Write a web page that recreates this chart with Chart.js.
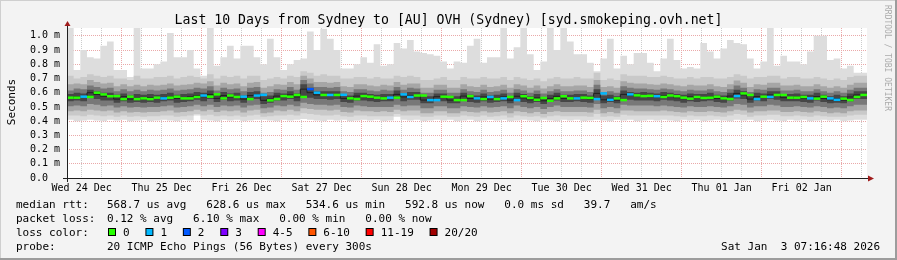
<!DOCTYPE html>
<html>
<head>
<meta charset="utf-8">
<title>SmokePing syd.smokeping.ovh.net</title>
<script src="https://cdn.jsdelivr.net/npm/chart.js@4.4.1/dist/chart.umd.min.js"></script>
<style>
  html, body { margin: 0; padding: 0; background: #f3f3f3; }
  #wrap { width: 897px; height: 260px; }
</style>
</head>
<body>
<div id="wrap"><canvas id="smoke" width="897" height="260"></canvas></div>
<script>
// 10 days, one value every 2 hours (hours counted from midnight Wed 24 Dec)
const X_MIN = 7.6;
const X_MAX = 247.6;
const STEP_H = 2;
const Y_MAX = 1.055;

const dayLabels = ['Wed 24 Dec', 'Thu 25 Dec', 'Fri 26 Dec', 'Sat 27 Dec', 'Sun 28 Dec',
                   'Mon 29 Dec', 'Tue 30 Dec', 'Wed 31 Dec', 'Thu 01 Jan', 'Fri 02 Jan'];
const gridHours = [12, 18, 24, 30, 36, 42, 48, 54, 60, 66, 72, 78, 84, 90, 96, 102, 108, 114, 120,
                   126, 132, 138, 144, 150, 156, 162, 168, 174, 180, 186, 192, 198, 204, 210, 216,
                   222, 228, 234, 240, 246];
const yTicks = [0, 0.1, 0.2, 0.3, 0.4, 0.5, 0.6, 0.7, 0.8, 0.9, 1.0];
const yTickLabels = ['0.0  ', '0.1 m', '0.2 m', '0.3 m', '0.4 m', '0.5 m', '0.6 m', '0.7 m', '0.8 m', '0.9 m', '1.0 m'];

// median rtt (ms) and lost pings out of 20
const medianRtt = [
  .565,.565,.572,.57,.60,.588,.575,.576,.555,.572,.555,.56,.555,.565,.56,.565,.572,.56,.56,.57,.58,.572,.588,.56,.58,.57,.572,.555,.58,.585,
  .546,.555,.576,.572,.584,.57,.625,.60,.584,.584,.584,.585,.56,.555,.576,.572,.565,.56,.565,.565,.588,.57,.58,.58,.548,.548,.572,.57,.548,.548,
  .576,.56,.555,.57,.555,.56,.57,.548,.575,.563,.55,.563,.543,.56,.575,.56,.56,.565,.563,.555,.595,.55,.56,.548,.588,.581,.576,.578,.575,.57,
  .58,.575,.565,.558,.57,.563,.565,.572,.56,.555,.576,.595,.584,.555,.572,.57,.584,.584,.565,.565,.57,.56,.558,.572,.56,.55,.558,.548,.57,.584
];
const lostPings = [
  0,0,1,0,0,0,0,0,0,0,0,0,0,0,1,0,0,0,0,0,1,0,0,0,0,0,1,0,1,1,
  0,0,0,0,0,0,2,1,0,1,0,1,0,0,0,0,0,0,1,0,1,1,0,0,1,1,0,0,0,0,
  0,1,0,1,0,1,0,1,0,0,0,0,0,0,0,0,1,0,0,1,1,1,0,0,1,0,0,0,1,0,
  0,0,0,0,0,0,0,0,0,0,1,0,0,1,0,1,0,0,0,0,0,1,0,0,1,1,0,0,0,0
];

// smoke: outer (min / max) to inner percentiles
const maxRtt = [
  .81,1.06,.76,.90,.85,.84,.93,.96,.76,.76,.71,1.06,.77,.77,.80,.82,1.02,.85,.85,.90,.77,.72,1.06,.79,.85,.93,.84,.93,.93,.85,
  .80,.98,.85,.76,.80,.83,.84,1.03,.90,1.05,.98,.90,.77,.77,.80,.85,.81,.94,.79,.80,.95,.91,.97,.89,.88,.87,.86,.82,.77,.82,
  .81,.93,.98,.81,.85,.85,1.06,.84,.92,1.06,.87,.76,.82,1.06,.90,1.06,.96,.87,.87,.81,.75,.84,.98,.77,.86,.80,.88,.88,.81,.75,
  .84,.98,.83,.77,.78,.77,.95,.89,.84,.91,.97,.95,.94,.84,.77,.82,1.06,.79,.86,.82,.82,.80,.89,1.00,1.00,.83,.84,.77,.79,.74
];
const minRtt = [
  .405,.41,.40,.405,.41,.405,.40,.41,.405,.41,.40,.405,.41,.40,.405,.41,.405,.40,.41,.405,.44,.41,.405,.40,.41,.405,.41,.40,.405,.41,
  .41,.405,.40,.41,.405,.41,.415,.41,.405,.40,.41,.405,.41,.40,.405,.41,.405,.41,.40,.405,.43,.41,.405,.41,.40,.405,.41,.405,.41,.40,
  .405,.41,.40,.405,.41,.405,.41,.40,.405,.41,.405,.40,.41,.405,.40,.41,.405,.41,.40,.405,.41,.405,.40,.41,.405,.41,.40,.405,.41,.405,
  .41,.405,.40,.41,.405,.41,.40,.405,.41,.405,.40,.41,.405,.41,.40,.405,.41,.405,.40,.41,.405,.41,.40,.405,.41,.405,.41,.40,.405,.41
];
const p2Hi = [
  .71,.72,.70,.71,.73,.72,.71,.72,.70,.70,.69,.72,.70,.70,.71,.71,.72,.70,.71,.72,.71,.70,.73,.70,.72,.71,.72,.70,.72,.72,
  .69,.70,.71,.70,.72,.71,.75,.74,.72,.73,.72,.72,.70,.70,.71,.71,.70,.71,.70,.70,.72,.71,.72,.71,.69,.69,.70,.71,.69,.69,
  .71,.70,.70,.71,.70,.70,.71,.69,.71,.70,.69,.70,.68,.70,.71,.70,.70,.71,.70,.70,.74,.69,.70,.69,.73,.72,.72,.72,.71,.71,
  .72,.71,.70,.70,.71,.70,.71,.71,.70,.70,.71,.73,.72,.70,.71,.71,.72,.72,.70,.71,.71,.70,.70,.71,.70,.69,.70,.69,.71,.72
];
const p2Lo = [
  .435,.44,.44,.435,.445,.44,.435,.44,.43,.44,.43,.435,.43,.435,.435,.44,.44,.43,.435,.44,.45,.44,.445,.435,.44,.435,.44,.43,.44,.445,
  .43,.435,.44,.44,.445,.44,.455,.45,.445,.44,.44,.445,.435,.43,.44,.44,.435,.435,.435,.435,.45,.44,.44,.44,.43,.43,.44,.44,.43,.43,
  .44,.435,.43,.44,.43,.435,.44,.425,.44,.435,.43,.435,.425,.435,.44,.435,.435,.435,.435,.43,.45,.43,.435,.43,.445,.44,.44,.44,.44,.44,
  .44,.44,.435,.43,.44,.435,.435,.44,.435,.43,.44,.45,.445,.43,.44,.44,.445,.445,.435,.435,.44,.435,.43,.44,.435,.43,.43,.43,.44,.445
];
const p3Hi = [
  .655,.66,.665,.66,.69,.675,.665,.67,.645,.66,.645,.655,.645,.655,.65,.655,.665,.65,.655,.66,.67,.665,.68,.65,.67,.66,.665,.645,.67,.675,
  .635,.645,.66,.655,.675,.66,.72,.70,.675,.675,.67,.675,.645,.64,.66,.66,.65,.645,.655,.65,.675,.655,.665,.665,.635,.635,.655,.655,.635,.635,
  .66,.645,.64,.655,.64,.645,.655,.635,.66,.65,.635,.65,.63,.645,.66,.645,.645,.65,.65,.64,.69,.64,.645,.635,.68,.67,.665,.665,.66,.655,
  .665,.66,.65,.645,.655,.65,.65,.66,.645,.64,.66,.685,.67,.64,.66,.655,.67,.67,.65,.65,.655,.645,.645,.66,.645,.635,.645,.635,.655,.67
];
const p3Lo = [
  .465,.47,.475,.47,.48,.475,.47,.475,.46,.47,.46,.465,.46,.465,.465,.47,.475,.46,.465,.47,.48,.47,.48,.465,.475,.47,.475,.46,.475,.48,
  .455,.46,.475,.47,.48,.47,.49,.485,.48,.48,.475,.48,.465,.46,.475,.47,.47,.465,.47,.465,.48,.47,.475,.475,.455,.455,.47,.47,.455,.455,
  .47,.465,.46,.47,.46,.465,.47,.455,.47,.465,.455,.465,.45,.465,.47,.465,.465,.465,.465,.46,.48,.455,.465,.455,.475,.475,.47,.47,.47,.47,
  .475,.47,.465,.46,.47,.465,.465,.47,.465,.46,.47,.48,.475,.46,.47,.47,.475,.475,.465,.465,.47,.465,.46,.47,.465,.455,.46,.455,.47,.475
];
const p4Hi = [
  .62,.615,.63,.625,.65,.64,.63,.635,.61,.625,.61,.62,.61,.62,.615,.62,.63,.615,.62,.625,.635,.63,.645,.615,.635,.625,.63,.61,.635,.64,
  .60,.605,.625,.62,.64,.62,.69,.665,.64,.64,.635,.64,.61,.605,.625,.625,.615,.61,.62,.615,.64,.62,.635,.63,.60,.60,.62,.62,.60,.60,
  .625,.61,.605,.62,.605,.61,.62,.60,.625,.615,.60,.615,.595,.61,.625,.61,.61,.615,.615,.605,.655,.605,.61,.60,.645,.635,.63,.63,.625,.62,
  .63,.625,.615,.61,.62,.615,.615,.625,.61,.605,.625,.65,.635,.605,.625,.62,.635,.635,.615,.615,.62,.61,.61,.625,.61,.60,.61,.60,.62,.635
];
const p4Lo = [
  .50,.505,.51,.505,.52,.515,.505,.51,.495,.505,.495,.50,.495,.50,.50,.505,.51,.495,.50,.505,.515,.505,.515,.50,.51,.505,.51,.495,.51,.515,
  .49,.495,.51,.505,.515,.505,.53,.52,.515,.515,.51,.515,.50,.495,.51,.505,.50,.50,.50,.50,.515,.505,.51,.51,.49,.49,.505,.505,.49,.49,
  .505,.50,.495,.505,.495,.50,.505,.49,.51,.50,.49,.50,.485,.50,.51,.50,.50,.50,.50,.495,.52,.49,.50,.49,.515,.51,.51,.51,.51,.505,
  .51,.505,.50,.495,.505,.50,.50,.505,.50,.495,.505,.52,.515,.495,.505,.505,.515,.51,.50,.50,.505,.50,.495,.505,.50,.49,.495,.49,.505,.515
];
const p5Hi = [
  .59,.59,.60,.595,.62,.61,.60,.60,.585,.595,.58,.59,.585,.59,.585,.59,.60,.585,.59,.595,.605,.60,.615,.585,.605,.595,.60,.58,.605,.61,
  .575,.58,.60,.595,.61,.595,.66,.635,.61,.61,.61,.61,.585,.58,.60,.60,.59,.585,.59,.59,.615,.595,.605,.605,.575,.575,.595,.595,.575,.575,
  .60,.585,.58,.595,.58,.585,.595,.575,.60,.59,.575,.59,.57,.585,.60,.585,.585,.59,.59,.58,.625,.58,.585,.575,.615,.605,.60,.605,.60,.595,
  .605,.60,.59,.585,.595,.59,.59,.60,.585,.58,.60,.62,.61,.58,.60,.595,.61,.61,.59,.59,.595,.585,.585,.60,.585,.575,.585,.575,.595,.61
];
const p5Lo = [
  .535,.54,.545,.54,.565,.555,.545,.545,.53,.54,.53,.535,.53,.535,.53,.54,.545,.53,.535,.54,.55,.54,.555,.535,.55,.54,.545,.53,.55,.555,
  .52,.53,.545,.545,.555,.54,.575,.565,.555,.555,.55,.555,.535,.53,.545,.545,.54,.535,.54,.54,.555,.54,.55,.55,.525,.525,.545,.54,.525,.525,
  .545,.535,.53,.54,.53,.535,.54,.525,.545,.535,.525,.535,.52,.535,.545,.535,.535,.54,.535,.53,.56,.525,.535,.525,.555,.55,.545,.545,.545,.54,
  .55,.545,.54,.53,.54,.535,.54,.545,.535,.53,.545,.56,.555,.53,.545,.54,.555,.55,.54,.54,.54,.535,.53,.545,.535,.525,.53,.525,.54,.555
];

const lossLabels = ['0', '1', '2', '3', '4-5', '6-10', '11-19', '20/20'];
const lossColors = ['#26ff00', '#00b8ff', '#0059ff', '#7e00ff', '#ff00ff', '#ff5500', '#ff0000', '#a10000'];
const lossIndex = n => n <= 3 ? n : n <= 5 ? 4 : n <= 10 ? 5 : n < 20 ? 6 : 7;

const legendRows = [
  ['median rtt:', '568.7 us avg   628.6 us max   534.6 us min   592.8 us now   0.0 ms sd   39.7   am/s'],
  ['packet loss:', '0.12 % avg   6.10 % max   0.00 % min   0.00 % now'],
  ['loss color:', ''],
  ['probe:', '20 ICMP Echo Pings (56 Bytes) every 300s']
];
const titleText = 'Last 10 Days from Sydney to [AU] OVH (Sydney) [syd.smokeping.ovh.net]';
const stampText = 'Sat Jan  3 07:16:48 2026';

const MONO = '"DejaVu Sans Mono", "Liberation Mono", monospace';

function stepSeries(values) {
  const pts = values.map((v, i) => ({ x: X_MIN + STEP_H * i, y: v }));
  pts.push({ x: X_MAX, y: values[values.length - 1] });
  return pts;
}

const bands = [
  { hi: p5Hi, lo: p5Lo, color: '#464646' },
  { hi: p4Hi, lo: p4Lo, color: '#787878' },
  { hi: p3Hi, lo: p3Lo, color: '#a6a6a6' },
  { hi: p2Hi, lo: p2Lo, color: '#c9c9c9' },
  { hi: maxRtt, lo: minRtt, color: '#dddddd' }
];

const datasets = [
  {
    // loss coloured median, one short bar per step
    data: medianRtt.map((v, i) => ({ x: X_MIN + STEP_H * (i + 0.5), y: v })),
    showLine: false,
    pointStyle: 'line',
    pointRadius: ctx => ctx.chart.chartArea ? ctx.chart.chartArea.width / medianRtt.length / 2 : 3,
    pointBorderWidth: 2.5,
    pointBorderColor: lostPings.map(n => lossColors[lossIndex(n)]),
    pointBackgroundColor: lostPings.map(n => lossColors[lossIndex(n)])
  },
  {
    data: stepSeries(medianRtt),
    stepped: 'after',
    borderColor: '#202020',
    borderWidth: 1,
    pointRadius: 0,
    fill: false
  }
];
bands.forEach(b => {
  datasets.push({ data: stepSeries(b.hi), stepped: 'after', borderWidth: 0, pointRadius: 0,
                  backgroundColor: b.color, fill: '+1' });
  datasets.push({ data: stepSeries(b.lo), stepped: 'after', borderWidth: 0, pointRadius: 0, fill: false });
});

const rrdDecor = {
  id: 'rrdDecor',
  beforeDraw(chart) {
    const { ctx, chartArea: a } = chart;
    ctx.save();
    ctx.fillStyle = '#f3f3f3';
    ctx.fillRect(0, 0, chart.width, chart.height);
    ctx.fillStyle = '#ffffff';
    ctx.fillRect(a.left, a.top, a.right - a.left, a.bottom - a.top);
    ctx.restore();
  },
  afterDraw(chart) {
    const { ctx, chartArea: a } = chart;
    ctx.save();

    // axes with arrows
    ctx.strokeStyle = '#202020';
    ctx.lineWidth = 1;
    ctx.beginPath();
    ctx.moveTo(a.left - 4, a.bottom + 0.5);
    ctx.lineTo(a.right + 4, a.bottom + 0.5);
    ctx.moveTo(a.left + 0.5, a.bottom + 4);
    ctx.lineTo(a.left + 0.5, a.top - 3);
    ctx.stroke();
    ctx.fillStyle = '#a01c1c';
    ctx.beginPath();
    ctx.moveTo(a.left - 2.5, a.top - 2);
    ctx.lineTo(a.left + 3.5, a.top - 2);
    ctx.lineTo(a.left + 0.5, a.top - 7);
    ctx.closePath();
    ctx.fill();
    ctx.beginPath();
    ctx.moveTo(a.right + 1, a.bottom - 2.5);
    ctx.lineTo(a.right + 1, a.bottom + 3.5);
    ctx.lineTo(a.right + 7, a.bottom + 0.5);
    ctx.closePath();
    ctx.fill();

    // title
    ctx.fillStyle = '#000';
    ctx.font = '13.2px ' + MONO;
    ctx.textAlign = 'center';
    ctx.textBaseline = 'alphabetic';
    ctx.fillText(titleText, 448.5, 23.5);

    // vertical axis title
    ctx.save();
    ctx.font = '11px ' + MONO;
    ctx.translate(15, 102);
    ctx.rotate(-Math.PI / 2);
    ctx.fillText('Seconds', 0, 0);
    ctx.restore();

    // watermark
    ctx.save();
    ctx.font = '8px ' + MONO;
    ctx.fillStyle = '#ababab';
    ctx.textAlign = 'left';
    ctx.translate(885, 5);
    ctx.rotate(Math.PI / 2);
    ctx.fillText('RRDTOOL / TOBI OETIKER', 0, 0);
    ctx.restore();

    // legend
    ctx.font = '11px ' + MONO;
    ctx.textAlign = 'left';
    ctx.fillStyle = '#000';
    const charW = ctx.measureText('0').width;
    legendRows.forEach((row, i) => {
      const y = 207.5 + i * 14;
      ctx.fillText(row[0], 16, y);
      if (row[1]) ctx.fillText(row[1], 107, y);
    });
    let bx = 108;
    lossLabels.forEach((lab, i) => {
      ctx.fillStyle = '#000';
      ctx.fillRect(bx, 228, 8, 8);
      ctx.fillStyle = lossColors[i];
      ctx.fillRect(bx + 1, 229, 6, 6);
      ctx.fillStyle = '#000';
      ctx.fillText(lab, bx + 15, 235.5);
      bx += 15 + lab.length * charW + 15.8;
    });
    ctx.textAlign = 'right';
    ctx.fillText(stampText, 880, 249.5);

    // frame
    ctx.fillStyle = '#cfcfcf';
    ctx.fillRect(0, 0, chart.width, 1);
    ctx.fillRect(0, 0, 1, chart.height);
    ctx.fillStyle = '#9c9c9c';
    ctx.fillRect(0, chart.height - 2, chart.width, 2);
    ctx.fillRect(chart.width - 2, 0, 2, chart.height);
    ctx.restore();
  }
};

new Chart(document.getElementById('smoke'), {
  type: 'line',
  data: { datasets },
  plugins: [rrdDecor],
  options: {
    responsive: false,
    animation: false,
    events: [],
    layout: { padding: { top: 28, right: 30, bottom: 0, left: 0 } },
    plugins: { legend: { display: false }, tooltip: { enabled: false }, title: { display: false } },
    scales: {
      x: {
        type: 'linear',
        min: X_MIN,
        max: X_MAX,
        z: 1,
        afterBuildTicks: s => { s.ticks = gridHours.map(v => ({ value: v })); },
        afterFit: s => { s.height = 82; s.paddingLeft = 0; s.paddingRight = 0; },
        grid: {
          drawTicks: false,
          lineWidth: 1,
          color: ctx => (ctx.tick && ctx.tick.value % 24 === 0) ? '#eaa9a9' : '#cccccc'
        },
        border: { display: false, dash: [1, 1] },
        ticks: {
          autoSkip: false,
          maxRotation: 0,
          padding: 4,
          color: '#000',
          font: { family: MONO, size: 10 },
          callback: v => (v % 24 === 12) ? dayLabels[(v - 12) / 24] : ''
        }
      },
      y: {
        type: 'linear',
        min: 0,
        max: Y_MAX,
        z: 1,
        afterBuildTicks: s => { s.ticks = yTicks.map(v => ({ value: v })); },
        afterFit: s => { s.width = 67; s.paddingTop = 0; s.paddingBottom = 0; },
        grid: { drawTicks: false, lineWidth: 1, color: '#eaa9a9' },
        border: { display: false, dash: [1, 1] },
        ticks: {
          padding: 7,
          color: '#000',
          font: { family: MONO, size: 10 },
          callback: v => yTickLabels[Math.round(v * 10)]
        }
      }
    }
  }
});
</script>
</body>
</html>
